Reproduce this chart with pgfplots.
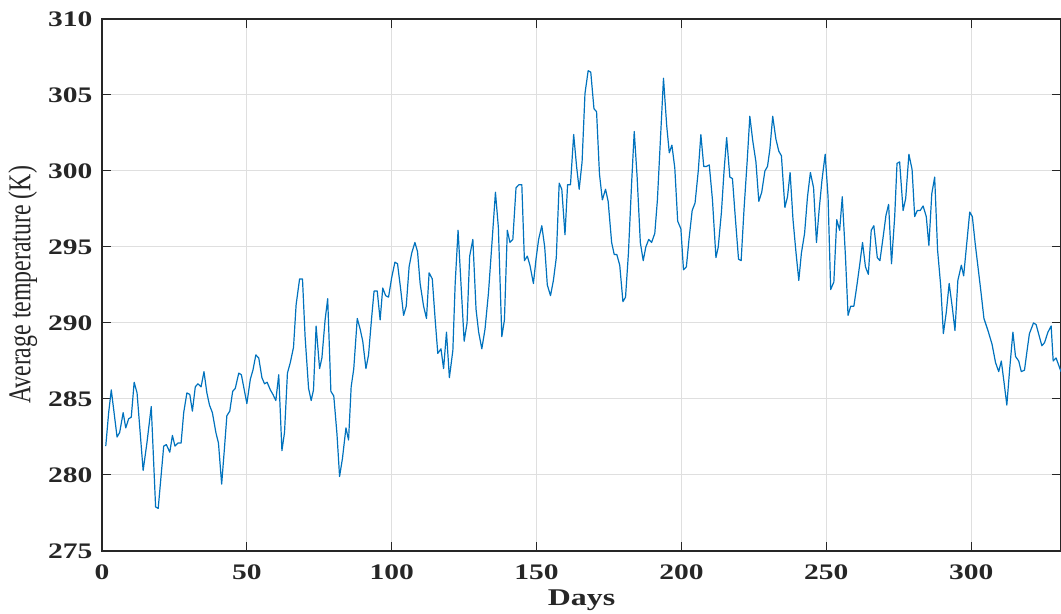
\documentclass[border=0pt]{standalone}
\usepackage{fontspec}
\setmainfont{Liberation Serif}
\newfontfamily\tickfont[FakeStretch=1.33]{Liberation Serif}
\newfontfamily\ylfont[FakeStretch=0.75]{Liberation Serif}
\usepackage{pgfplots}
\pgfplotsset{compat=1.18}
\usepackage{pgfplotstable}
\usetikzlibrary{calc}

\definecolor{mblue}{RGB}{0,114,189}
\definecolor{axgray}{RGB}{38,38,38}
\definecolor{gridgray}{RGB}{223,223,223}

% day  temperature (K)
\pgfplotstableread{
day temp
1.3 281.9
2.3 284.1
3.2 285.6
5.2 282.5
6.1 282.8
7.3 284.1
8.2 283.1
9.2 283.7
10.1 283.8
11.1 286.1
12.1 285.4
14.2 280.3
15.5 282.1
17.0 284.5
18.5 277.9
19.4 277.8
21.3 281.9
22.2 282.0
23.4 281.5
24.3 282.6
25.2 281.9
26.2 282.1
27.3 282.1
28.2 284.1
29.3 285.4
30.3 285.3
31.2 284.2
32.2 285.8
33.1 286.0
34.2 285.8
35.2 286.8
36.2 285.4
37.1 284.6
38.1 284.1
39.3 282.8
40.2 282.1
41.3 279.4
42.2 281.6
43.1 283.9
44.1 284.2
45.1 285.5
46.0 285.7
47.2 286.7
48.1 286.6
49.1 285.6
50.0 284.7
51.2 286.3
52.1 286.9
53.1 287.9
54.1 287.7
55.2 286.4
56.1 286.0
57.0 286.1
58.1 285.6
59.0 285.3
60.0 284.9
61.0 286.6
62.1 281.6
63.0 282.8
64.0 286.7
65.0 287.4
66.1 288.4
67.0 291.2
68.2 292.9
69.2 292.9
70.1 289.1
71.3 285.7
72.2 284.9
73.0 285.6
73.9 289.8
75.1 287.0
75.9 287.7
77.0 290.2
77.9 291.6
79.0 285.5
80.0 285.2
81.1 282.7
82.0 279.9
83.0 281.1
84.2 283.1
85.1 282.3
86.0 285.8
86.9 287.0
88.1 290.3
89.1 289.6
90.0 288.8
91.1 287.0
92.0 287.9
93.0 290.2
93.9 292.1
95.0 292.1
96.0 290.2
96.9 292.3
97.9 291.8
98.9 291.7
100.0 293.0
101.1 294.0
102.0 293.9
103.1 292.2
104.1 290.5
105.0 291.1
106.0 293.7
106.9 294.6
108.0 295.3
108.9 294.7
109.8 292.6
111.0 291.1
112.0 290.3
112.9 293.3
114.0 292.9
115.0 290.2
115.9 288.0
117.0 288.3
117.9 287.0
118.9 289.4
119.9 286.4
121.1 288.2
121.9 292.6
122.9 296.1
123.9 292.6
125.0 288.8
126.0 290.0
126.9 294.4
128.0 295.5
129.1 290.9
130.0 289.4
131.1 288.3
132.2 289.6
133.4 292.0
134.5 295.0
135.8 298.6
136.8 296.3
138.0 289.1
138.9 290.2
139.9 296.1
140.8 295.3
141.8 295.5
142.9 298.9
143.9 299.1
144.9 299.1
145.8 294.1
146.8 294.4
147.7 293.8
148.9 292.6
149.8 294.2
150.7 295.5
151.8 296.4
152.8 295.0
153.7 292.5
154.8 291.8
155.8 292.8
156.8 294.3
157.8 299.2
158.7 298.8
159.8 295.8
160.7 299.1
161.7 299.1
162.8 302.4
163.8 300.3
164.7 298.8
165.7 300.6
166.7 305.1
167.8 306.6
168.7 306.5
169.8 304.1
170.7 303.9
171.7 299.8
172.7 298.1
173.8 298.8
174.7 298.0
175.9 295.3
176.8 294.5
177.7 294.5
178.7 293.8
179.8 291.4
180.7 291.7
181.7 294.6
182.8 299.2
183.7 302.6
184.7 299.6
185.8 295.3
186.8 294.1
187.7 295.0
188.7 295.5
189.7 295.3
190.8 295.9
191.7 298.1
192.8 302.3
193.8 306.1
194.9 303.0
195.8 301.2
196.7 301.7
197.7 300.2
198.7 296.7
199.8 296.2
200.7 293.5
201.7 293.7
202.6 295.5
203.7 297.4
204.7 297.9
205.8 300.0
206.7 302.4
207.7 300.3
208.6 300.3
209.6 300.4
210.7 298.1
211.9 294.3
212.7 295.0
213.8 297.3
214.7 300.0
215.6 302.2
216.7 299.6
217.6 299.5
218.6 296.9
219.7 294.2
220.6 294.1
221.6 297.5
222.7 300.7
223.6 303.6
224.6 302.0
225.7 300.6
226.7 298.0
227.7 298.6
228.8 300.0
229.7 300.3
230.5 301.4
231.5 303.6
232.6 302.1
233.6 301.3
234.5 301.0
235.7 297.6
236.6 298.3
237.5 299.9
238.5 296.8
239.5 294.7
240.5 292.8
241.4 294.6
242.5 295.9
243.5 298.3
244.5 299.9
245.6 298.9
246.6 295.3
247.5 297.4
248.5 299.4
249.6 301.1
250.6 298.3
251.5 292.2
252.6 292.7
253.6 296.8
254.6 296.1
255.5 298.3
256.6 294.4
257.5 290.5
258.4 291.1
259.5 291.1
260.5 292.4
261.5 293.8
262.5 295.3
263.5 293.7
264.5 293.2
265.5 296.1
266.4 296.4
267.6 294.3
268.5 294.1
269.5 295.5
270.6 297.1
271.5 297.8
272.5 293.9
273.6 297.0
274.4 300.5
275.3 300.6
276.5 297.4
277.4 298.2
278.5 301.1
279.6 300.1
280.5 297.0
281.4 297.4
282.4 297.4
283.4 297.7
284.5 297.0
285.4 295.1
286.4 298.5
287.4 299.6
288.4 294.8
289.5 292.4
290.4 289.3
291.4 290.7
292.4 292.6
293.5 291.0
294.4 289.5
295.4 292.8
296.6 293.8
297.4 293.1
299.5 297.3
300.4 297.0
301.4 295.2
302.4 293.6
303.4 292.0
304.4 290.3
305.8 289.5
307.2 288.6
308.4 287.4
309.5 286.8
310.4 287.5
311.4 286.0
312.3 284.6
313.3 287.0
314.4 289.4
315.3 287.8
316.4 287.5
317.3 286.8
318.4 286.9
319.3 288.2
320.1 289.3
321.5 290.0
322.4 289.9
323.4 289.2
324.4 288.5
325.3 288.7
326.5 289.4
327.6 289.8
328.3 287.5
329.3 287.7
331.0 286.8
}\tempdata

\begin{document}
\begin{tikzpicture}
\begin{axis}[
    name=ax,
    scale only axis,
    width=479.5pt, height=266pt,
    xmin=0, xmax=331,
    ymin=275, ymax=310,
    xtick={0,50,...,300},
    ytick={275,280,...,310},
    grid=major,
    major grid style={gridgray, line width=0.5pt},
    axis line style={axgray, line width=0.6pt},
    tick style={axgray, line width=0.5pt},
    tick align=inside,
    major tick length=4.5pt,
    /pgf/number format/assume math mode=true,
    tick label style={font={\fontsize{11.1}{13}\tickfont\bfseries}, text=axgray},
    xticklabel style={yshift=-3.5pt},
    yticklabel style={xshift=-1.3pt},
    xlabel={Days},
    ylabel={Average temperature (K)},
    xlabel style={at={(axis description cs:0.5,-0.092)}, anchor=center,
        font={\fontsize{12}{14}\tickfont\bfseries}, text=axgray},
    ylabel style={at={(axis description cs:-0.0826,0.5)}, rotate=0, anchor=center,
        font={\fontsize{15.9}{18}\ylfont}, text=axgray},
]
\addplot[mblue, line width=0.6pt, line join=round] table[x=day, y=temp] {\tempdata};
\end{axis}
\pgfresetboundingbox
\path[use as bounding box] ($(ax.south west)+(-51pt,-31.5pt)$) rectangle ($(ax.north east)+(0,9.5pt)$);
\end{tikzpicture}
\end{document}
